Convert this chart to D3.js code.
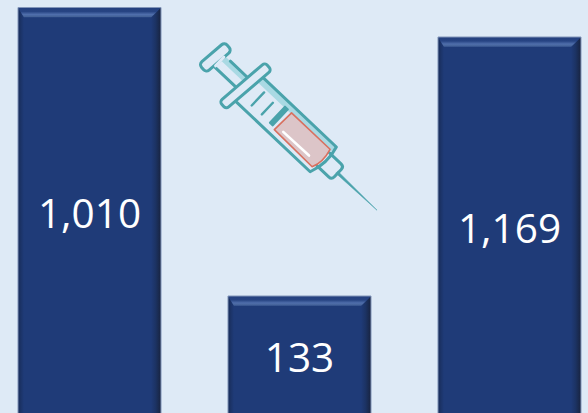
<!DOCTYPE html>
<html>
<head>
<meta charset="utf-8">
<script src="https://cdn.jsdelivr.net/npm/d3@7"></script>
<style>
  html, body { margin: 0; padding: 0; background: #deeaf6; overflow: hidden; }
  svg { display: block; }
</style>
</head>
<body>
<div id="chart"></div>
<script>
const categories = ["left", "middle", "right"];
const labelValues = [1010, 133, 1169];
// the bars in the picture are not proportional to their labels, so drawn heights are kept apart
const drawnLevels = [412.5, 124, 383];

const width = 588;
const height = 413;
const baseline = 420; // bars run past the bottom edge of the picture
const bevelTop = 10, bevelRight = 10, bevelLeft = 6;

const svg = d3.select("#chart").append("svg")
  .attr("width", width)
  .attr("height", height);

const x = d3.scaleBand()
  .domain(categories)
  .range([18, 581])
  .paddingInner(0.319)
  .paddingOuter(0);

const y = d3.scaleLinear()
  .domain([0, 420])
  .range([baseline, 0]);

const defs = svg.append("defs");

function addGradient(id, dir, stops) {
  const g = defs.append("linearGradient").attr("id", id)
    .attr("x1", dir[0]).attr("y1", dir[1]).attr("x2", dir[2]).attr("y2", dir[3]);
  stops.forEach(s => g.append("stop").attr("offset", s[0]).attr("stop-color", s[1]));
}
addGradient("bevel-top", [0, 0, 0, 1], [[0, "#24407e"], [0.4, "#274483"], [0.7, "#4f6eab"], [0.9, "#456399"], [1, "#2c4a88"]]);
addGradient("bevel-right", [0, 0, 1, 0], [[0, "#1f3b78"], [0.45, "#1c3364"], [1, "#18233f"]]);
addGradient("bevel-left", [0, 0, 1, 0], [[0, "#182c58"], [1, "#1f3b78"]]);

const bars = svg.selectAll("g.bar")
  .data(categories.map((c, i) => ({ cat: c, level: drawnLevels[i], label: labelValues[i] })))
  .join("g")
  .attr("class", "bar");

bars.append("rect")
  .attr("x", d => x(d.cat))
  .attr("y", d => y(d.level))
  .attr("width", x.bandwidth())
  .attr("height", d => y(0) - y(d.level))
  .attr("fill", "#1f3b78");

// bevel faces
bars.append("path")
  .attr("fill", "url(#bevel-left)")
  .attr("d", d => {
    const l = x(d.cat), t = y(d.level);
    return `M${l},${t}L${l + bevelLeft},${t + bevelTop}L${l + bevelLeft},${baseline}L${l},${baseline}Z`;
  });

bars.append("path")
  .attr("fill", "url(#bevel-right)")
  .attr("d", d => {
    const r = x(d.cat) + x.bandwidth(), t = y(d.level);
    return `M${r},${t}L${r - bevelRight},${t + bevelTop}L${r - bevelRight},${baseline}L${r},${baseline}Z`;
  });

bars.append("path")
  .attr("fill", "url(#bevel-top)")
  .attr("d", d => {
    const l = x(d.cat), r = l + x.bandwidth(), t = y(d.level);
    return `M${l},${t}L${r},${t}L${r - bevelRight},${t + bevelTop}L${l + bevelLeft},${t + bevelTop}Z`;
  });

// thin light edge round the bar
bars.append("path")
  .attr("fill", "none")
  .attr("stroke", "#8296ba")
  .attr("stroke-width", 1)
  .attr("d", d => {
    const l = x(d.cat), r = l + x.bandwidth(), t = y(d.level);
    return `M${l},${baseline}L${l},${t}L${r},${t}L${r},${baseline}`;
  });

bars.append("text")
  .attr("x", d => x(d.cat) + x.bandwidth() / 2)
  .attr("y", d => (y(d.level) + y(0)) / 2)
  .attr("dy", "0.35em")
  .attr("text-anchor", "middle")
  .attr("fill", "#ffffff")
  .style("font-family", "'Open Sans', sans-serif")
  .style("font-size", "40.5px")
  .text(d => d3.format(",")(d.label));

// syringe illustration, drawn along its own axis then turned into place
const teal = "#4aa3ab";
const line = 3;
const syringe = svg.append("g")
  .attr("transform", "translate(215,57) rotate(43.4)")
  .attr("stroke-linejoin", "round")
  .attr("stroke-linecap", "round");

// needle
syringe.append("path")
  .attr("d", "M168,-1.4L223,0L168,1.4Z")
  .attr("fill", teal).attr("stroke", teal).attr("stroke-width", 0.5);

// nozzle
syringe.append("path")
  .attr("d", "M149,-9L165,-9Q169,-9 169,-5L169,5Q169,9 165,9L149,9")
  .attr("fill", "none").attr("stroke", teal).attr("stroke-width", line);

// plunger stem with light shading
syringe.append("rect")
  .attr("x", 5).attr("y", -7.5).attr("width", 32).attr("height", 6)
  .attr("fill", "#a9d9e3");
syringe.append("path")
  .attr("d", "M5,7.5L36,7.5M14,-7.5L37,-7.5")
  .attr("fill", "none").attr("stroke", teal).attr("stroke-width", line);

// barrel shading
syringe.append("path")
  .attr("d", "M47,-18L150,-18L149,-11L47,-11Z")
  .attr("fill", "#a9d9e3");

// liquid
syringe.append("path")
  .attr("d", "M94,-12L147,-12Q151,2 146,13L93,12Z")
  .attr("fill", "#dcc5c8").attr("stroke", "#d9705f").attr("stroke-width", 1.6);
syringe.append("path")
  .attr("d", "M101,7.5L136,7")
  .attr("stroke", "#ffffff").attr("stroke-width", 2.6).attr("fill", "none");

// barrel outline
syringe.append("path")
  .attr("d", "M47,-18L150,-18Q155,0 148,18L47,18")
  .attr("fill", "none").attr("stroke", teal).attr("stroke-width", line);

// graduation marks
syringe.append("path")
  .attr("d", "M60,-8L60,10M73.5,-6.5L73.5,9.5")
  .attr("fill", "none").attr("stroke", teal).attr("stroke-width", 2.4);
syringe.append("rect")
  .attr("x", 84).attr("y", -13).attr("width", 6).attr("height", 24).attr("rx", 1)
  .attr("fill", teal);

// flange and thumb rest sit a little off square in the picture
syringe.append("rect")
  .attr("x", 37).attr("y", -30).attr("width", 10).attr("height", 60).attr("rx", 3.5)
  .attr("transform", "rotate(6 42 0)")
  .attr("fill", "#deeaf6").attr("stroke", teal).attr("stroke-width", line);
syringe.append("rect")
  .attr("x", -5).attr("y", -17).attr("width", 11).attr("height", 34).attr("rx", 4)
  .attr("transform", "rotate(6 0 0)")
  .attr("fill", "#deeaf6").attr("stroke", teal).attr("stroke-width", line);
syringe.append("path")
  .attr("d", "M6.5,-6L6.5,6")
  .attr("stroke", "#deeaf6").attr("stroke-width", 3).attr("fill", "none");
</script>
</body>
</html>
